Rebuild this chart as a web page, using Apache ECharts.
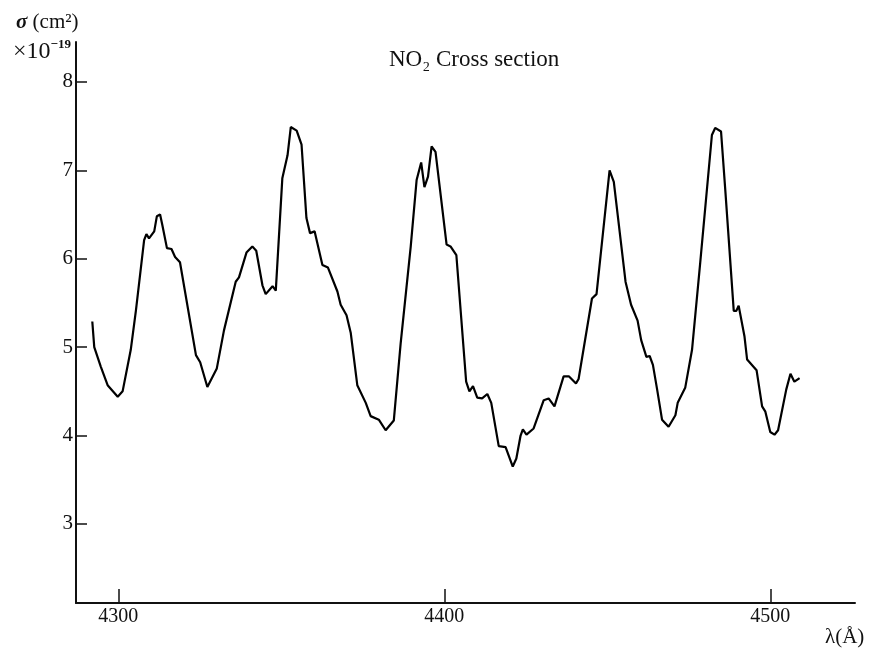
<!DOCTYPE html>
<html>
<head>
<meta charset="utf-8">
<script src="https://cdn.jsdelivr.net/npm/echarts@6/dist/echarts.min.js"></script>
<style>html,body{margin:0;padding:0;background:#fff;}#c{width:870px;height:651px;}</style>
</head>
<body>
<div id="c"></div>
<script>
// Wavelength (Å) and cross section (×10^-19 cm²)
const wavelength = [4292.0,4292.6,4294.6,4296.7,4299.8,4301.3,4303.8,4305.4,4307.9,4308.6,4309.4,4311.0,4311.8,4312.8,4313.5,4314.9,4316.3,4317.4,4318.9,4323.8,4325.1,4327.3,4330.2,4332.4,4336.0,4337.0,4339.3,4341.1,4342.3,4344.2,4345.2,4347.3,4348.3,4350.3,4351.9,4352.9,4354.7,4356.2,4357.7,4358.8,4360.2,4362.6,4364.3,4367.2,4368.2,4370.0,4371.3,4373.3,4375.9,4377.4,4379.9,4382.0,4384.5,4386.6,4389.7,4391.5,4392.9,4393.9,4395.0,4396.1,4397.3,4400.7,4401.9,4403.7,4406.7,4407.7,4408.8,4410.1,4411.6,4413.2,4414.4,4416.7,4418.8,4421.0,4422.1,4423.4,4424.1,4425.2,4427.4,4430.5,4432.0,4433.8,4436.6,4438.2,4440.4,4441.2,4445.3,4446.7,4450.7,4452.0,4455.6,4457.3,4459.3,4460.4,4462.0,4463.0,4464.0,4465.3,4466.8,4468.8,4470.9,4471.6,4473.9,4476.0,4478.5,4482.1,4483.1,4484.9,4486.2,4488.8,4489.6,4490.3,4492.1,4492.9,4495.8,4497.5,4498.5,4500.0,4501.3,4502.4,4504.9,4506.2,4507.4,4509.0];
const crossSection = [5.29,5.00,4.78,4.57,4.44,4.50,4.97,5.42,6.21,6.28,6.23,6.31,6.48,6.50,6.38,6.12,6.11,6.02,5.96,4.91,4.83,4.55,4.76,5.19,5.74,5.79,6.07,6.14,6.09,5.70,5.60,5.69,5.64,6.91,7.17,7.49,7.45,7.29,6.46,6.29,6.31,5.93,5.90,5.63,5.48,5.36,5.16,4.57,4.37,4.22,4.18,4.06,4.17,5.04,6.14,6.89,7.09,6.81,6.93,7.27,7.21,6.16,6.14,6.04,4.61,4.50,4.56,4.43,4.42,4.47,4.37,3.88,3.87,3.65,3.74,4.00,4.07,4.01,4.08,4.40,4.42,4.33,4.67,4.67,4.59,4.64,5.55,5.60,7.00,6.87,5.74,5.48,5.30,5.08,4.89,4.90,4.80,4.52,4.18,4.10,4.23,4.37,4.54,4.97,5.95,7.40,7.48,7.44,6.78,5.41,5.41,5.47,5.12,4.86,4.74,4.33,4.27,4.04,4.01,4.06,4.52,4.70,4.61,4.65];
const xTicks = [4300, 4400, 4500];
const yTicks = [3, 4, 5, 6, 7, 8];

const serif = '"Liberation Serif","DejaVu Serif",serif';
const chart = echarts.init(document.getElementById('c'));
chart.setOption({
  backgroundColor: '#fff',
  animation: false,
  title: [
    { text: 'NO₂ Cross section', left: 384, top: 43, textStyle: { fontFamily: serif, fontSize: 23, fontWeight: 'normal', color: '#111' } },
    { text: '{s|σ} (cm²)', left: 11, top: 7, textStyle: { fontFamily: serif, fontSize: 21, fontWeight: 'normal', color: '#111', rich: { s: { fontFamily: serif, fontSize: 21, fontStyle: 'italic', fontWeight: 'bold', color: '#111' } } } },
    { text: '×10{sup|−19}', left: 8, top: 33, textStyle: { fontFamily: serif, fontSize: 24, fontWeight: 'normal', color: '#111', rich: { sup: { fontFamily: serif, fontSize: 13, fontWeight: 'bold', verticalAlign: 'top', padding: [0, 0, 14, 0], color: '#111' } } } },
    { text: 'λ(Å)', left: 820, top: 622, textStyle: { fontFamily: serif, fontSize: 21, fontWeight: 'normal', color: '#111' } }
  ],
  grid: { left: 76, right: 15, top: 42, bottom: 48, containLabel: false },
  xAxis: {
    type: 'value', min: 4287, max: 4526,
    axisLine: { show: true, onZero: false, lineStyle: { color: '#111', width: 2 } },
    axisTick: { show: true, inside: true, length: 14, customValues: xTicks, lineStyle: { color: '#111', width: 1.5 } },
    axisLabel: { customValues: xTicks, margin: 4, fontFamily: serif, fontSize: 20, color: '#111', formatter: v => String(v) },
    splitLine: { show: false }
  },
  yAxis: {
    type: 'value', min: 2.106, max: 8.452,
    axisLine: { show: true, lineStyle: { color: '#111', width: 2 } },
    axisTick: { show: true, inside: true, length: 11, customValues: yTicks, lineStyle: { color: '#111', width: 1.5 } },
    axisLabel: { customValues: yTicks, margin: 3, fontFamily: serif, fontSize: 21, color: '#111' },
    splitLine: { show: false }
  },
  series: [{
    type: 'line',
    data: wavelength.map((w, i) => [w, crossSection[i]]),
    showSymbol: false,
    symbol: 'none',
    lineStyle: { color: '#000', width: 2.2 }
  }]
});
</script>
</body>
</html>
